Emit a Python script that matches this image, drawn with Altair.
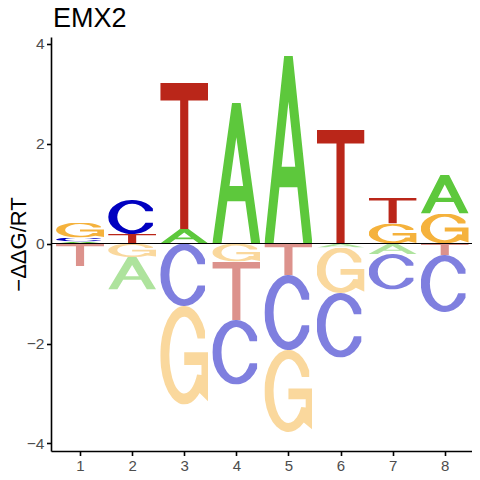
import base64
import altair as alt
import pandas as pd

# ---------------- data ----------------
chart_title = "EMX2"
y_title = "\u2212\u0394\u0394G/RT"
positions = [1, 2, 3, 4, 5, 6, 7, 8]
letters = ["A", "C", "G", "T"]
energy_A = [0.04, -0.65, 0.29, 2.81, 3.75, -0.08, -0.21, 0.77]
energy_C = [0.08, 0.68, -1.25, -1.29, -1.50, -1.29, -0.71, -1.14]
energy_G = [0.30, -0.27, -1.97, -0.36, -1.64, -0.91, 0.40, 0.60]
energy_T = [-0.45, 0.19, 2.92, -1.17, -0.63, 2.27, 0.52, -0.23]
y_ticks = [-4, -2, 0, 2, 4]

# ---------------- styles ----------------
letter_colors = {"A": "#5DC83C", "C": "#0000C0", "G": "#F5B23C", "T": "#BA2619"}
glyph_paths = {
    "T": "M0,0H100V12H58.5V100H41.5V12H0Z",
    "A": "M0,100L41,0H59L100,100H81L68.7,70H31.3L19,100Z M35.8,59H64.2L50,24.4Z",
    "C": "M93.3,25A50,50 0 1 0 93.3,75L93.3,67L77.9,67A31,39 0 1 1 77.9,33L93.3,33Z",
    "G": "M93.3,25A50,50 0 1 0 82.1,88.3L100,97L100,47L50,47L50,60L86,60L86,70"
         "L76.8,69.5A31,39 0 1 1 77.9,33L93.3,33Z",
}
half_width = 0.46
FONT = "Liberation Sans"


def glyph_uri(letter, negative):
    op = 0.5 if negative else 1.0
    svg = (
        '<svg xmlns="http://www.w3.org/2000/svg" width="100" height="100" '
        'viewBox="0 0 100 100" preserveAspectRatio="none">'
        f'<path d="{glyph_paths[letter]}" fill="{letter_colors[letter]}" '
        f'fill-opacity="{op}" fill-rule="evenodd"/></svg>'
    )
    return "data:image/svg+xml;base64," + base64.b64encode(svg.encode()).decode()


energies = {"A": energy_A, "C": energy_C, "G": energy_G, "T": energy_T}
rows = []
for i, pos in enumerate(positions):
    vals = [(L, energies[L][i]) for L in letters]
    pos_vals = sorted([v for v in vals if v[1] > 0], key=lambda t: abs(t[1]))
    neg_vals = sorted([v for v in vals if v[1] < 0], key=lambda t: abs(t[1]))
    base = 0.0
    for L, v in pos_vals:
        rows.append(dict(pos=pos, letter=L, x0=pos - half_width, x1=pos + half_width,
                         ylo=base, yhi=base + v, url=glyph_uri(L, False)))
        base += v
    base = 0.0
    for L, v in neg_vals:
        rows.append(dict(pos=pos, letter=L, x0=pos - half_width, x1=pos + half_width,
                         ylo=base + v, yhi=base, url=glyph_uri(L, True)))
        base += v
df = pd.DataFrame(rows)

x_scale = alt.Scale(domain=[0.443, 8.523], nice=False, zero=False)
y_scale = alt.Scale(domain=[-4.15, 4.13], nice=False, zero=False)

x_axis = alt.Axis(values=positions, format="d", grid=False, title=None,
                  domainColor="black", domainWidth=1.6, tickColor="black",
                  tickWidth=1.6, tickSize=4.5, labelColor="#4D4D4D",
                  labelFontSize=15, labelFont=FONT, labelPadding=2.5)
y_axis = alt.Axis(values=y_ticks, format="d", grid=False, title=y_title,
                  domainColor="black", domainWidth=1.6, tickColor="black",
                  tickWidth=1.6, tickSize=4.5, labelColor="#4D4D4D",
                  labelFontSize=15.5, labelFont=FONT, labelPadding=2.5,
                  titleFont=FONT, titleFontSize=22, titleFontWeight="normal",
                  titleColor="black", titleAngle=-90, titleX=-33, titleY=207,
                  titleAlign="center", titleBaseline="middle")

logo = alt.Chart(df).mark_image(aspect=False).encode(
    x=alt.X("x0:Q", scale=x_scale, axis=x_axis),
    x2="x1:Q",
    y=alt.Y("ylo:Q", scale=y_scale, axis=y_axis),
    y2="yhi:Q",
    url="url:N",
)

zero_line = alt.Chart(pd.DataFrame({"y": [0]})).mark_rule(
    color="black", strokeWidth=1
).encode(y=alt.Y("y:Q", scale=y_scale))

chart = alt.layer(logo, zero_line).properties(
    width=421,
    height=414,
    autosize="none",
    padding={"left": 43, "top": 29, "right": 0, "bottom": 21},
    title=alt.TitleParams(chart_title, anchor="start", fontSize=27, font=FONT,
                          fontWeight="normal", color="black", offset=4,
                          frame="group", dx=2),
).configure_view(stroke="transparent")

chart.save("out.html", embed_options={"renderer": "svg", "actions": False})
